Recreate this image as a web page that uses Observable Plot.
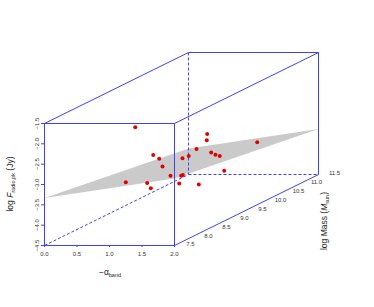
<!DOCTYPE html>
<html><head><meta charset="utf-8">
<script src="https://cdn.jsdelivr.net/npm/d3@7"></script>
<script src="https://cdn.jsdelivr.net/npm/@observablehq/plot@0.6"></script>
<style>
html,body{margin:0;padding:0;background:#fff;}
</style>
</head><body><div id="chart"></div>
<script>
// data (−α_band, log F_radio,pk, log Mass)
const alphaVals = [0.565,1.118,1.112,1.334,0.954,0.903,0.969,1.035,0.842,0.934,1.112,1.015,0.985,1.380,1.385,1.297,1.549,0.974,1.026,1.082,1.242,1.266];
const logFVals  = [-2.25,-2.85,-3.00,-3.49,-3.22,-3.52,-3.58,-3.61,-2.93,-3.02,-3.17,-3.23,-3.21,-3.75,-3.22,-3.42,-3.22,-3.16,-3.40,-3.53,-3.63,-3.87];
const massVals  = [9.0,10.0,10.0,11.0,10.0,10.5,10.5,10.5,9.0,9.0,9.5,9.5,9.0,10.0,8.5,9.0,8.5,8.0,8.5,8.5,9.0,9.5];
// fitted plane corners
const planeAlpha = [0,2,2,0];
const planeMass  = [7.5,7.5,11.5,11.5];
const planeLogF  = [-3.33,-2.85,-3.38,-3.86];
// ticks
const xTicks = [0,0.5,1,1.5,2];
const yTicks = [-4.5,-4,-3.5,-3,-2.5,-2,-1.5];
const massTicks = [7.5,8,8.5,9,9.5,10,10.5,11,11.5];
const alphaRange = [0,2], logFRange = [-4.5,-1.5], massRange = [7.5,11.5];

// oblique projection factors (depth → screen units)
const ku = 0.5538, kv = 0.4364;
const pu = (a,m) => a + (m - massRange[0]) * ku;
const pv = (f,m) => f + (m - massRange[0]) * kv;

const pts = alphaVals.map((a,i) => ({u: pu(a, massVals[i]), v: pv(logFVals[i], massVals[i])}));
const plane = planeAlpha.map((a,i) => ({u: pu(a, planeMass[i]), v: pv(planeLogF[i], planeMass[i])}));

const [a0,a1] = alphaRange, [f0,f1] = logFRange, [m0,m1] = massRange;
function edge(p, q, dashed){ return {x1: pu(p[0],p[2]), y1: pv(p[1],p[2]), x2: pu(q[0],q[2]), y2: pv(q[1],q[2]), dashed}; }
const edges = [
  edge([a0,f0,m0],[a1,f0,m0],false), edge([a1,f0,m0],[a1,f1,m0],false),
  edge([a1,f1,m0],[a0,f1,m0],false), edge([a0,f1,m0],[a0,f0,m0],false),
  edge([a0,f1,m0],[a0,f1,m1],false), edge([a1,f1,m0],[a1,f1,m1],false),
  edge([a1,f0,m0],[a1,f0,m1],false), edge([a0,f1,m1],[a1,f1,m1],false),
  edge([a1,f1,m1],[a1,f0,m1],false),
  edge([a0,f0,m0],[a0,f0,m1],true), edge([a0,f1,m1],[a0,f0,m1],true),
  edge([a0,f0,m1],[a1,f0,m1],true)
];
const massLabels = massTicks.map(m => ({u: pu(a1,m), v: pv(f0,m), t: m.toFixed(1)}));
const blue = "#3f3fff";
const fmt = d => (d < 0 ? "\u2212" : "") + Math.abs(d).toFixed(1);

const chart = Plot.plot({
  width: 374, height: 307,
  marginLeft: 44, marginRight: 56, marginTop: 52, marginBottom: 62,
  style: {fontFamily: "'Liberation Sans', Arial, sans-serif", fontSize: "6px", background: "#fff"},
  x: {domain: [0, 2 + 4*ku], axis: null},
  y: {domain: [-4.5, -1.5 + 4*kv], axis: null},
  marks: [
    Plot.line(plane.concat([plane[0]]), {x: "u", y: "v", fill: "#cacaca", stroke: "none"}),
    Plot.link(edges.filter(d => !d.dashed), {x1:"x1", y1:"y1", x2:"x2", y2:"y2", stroke: blue, strokeWidth: 1}),
    Plot.link(edges.filter(d => d.dashed), {x1:"x1", y1:"y1", x2:"x2", y2:"y2", stroke: blue, strokeWidth: 1, strokeDasharray: "3,2"}),
    Plot.axisX({ticks: xTicks, tickSize: 2, tickFormat: d => d.toFixed(1), label: null, tickPadding: 4, stroke: blue, color: "#333", fontSize: 6}),
    Plot.axisY({ticks: yTicks, tickSize: 3, tickFormat: fmt, label: null, tickRotate: -90, tickPadding: 3, stroke: blue, color: "#333", fontSize: 6}),
    Plot.text(massLabels, {x: "u", y: "v", text: "t", dx: 16, dy: -1, fill: "#333", fontSize: 6}),
    Plot.dot(pts, {x: "u", y: "v", r: 2, fill: "#e00000", stroke: "none"})
  ]
});
document.getElementById("chart").appendChild(chart);

// titles with italic / subscript parts
const svg = d3.select(chart);
const g = svg.append("g").attr("font-family", "'Liberation Sans', Arial, sans-serif").attr("fill", "#222");
const yt = g.append("text").attr("transform", "translate(13,184) rotate(-90)").attr("text-anchor", "middle").attr("font-size", 8.5);
yt.append("tspan").text("log ");
yt.append("tspan").attr("font-style", "italic").text("F");
yt.append("tspan").attr("font-size", 5.5).attr("dy", 2).text("radio,pk");
yt.append("tspan").attr("dy", -2).text(" (Jy)");

const xt = g.append("text").attr("x", 110).attr("y", 275).attr("text-anchor", "middle").attr("font-size", 8.5);
xt.append("tspan").text("\u2212\u03b1");
xt.append("tspan").attr("font-size", 5.5).attr("dy", 2).text("band");

const mt = g.append("text").attr("transform", "translate(327,221) rotate(-90)").attr("text-anchor", "middle").attr("font-size", 8.5);
mt.append("tspan").text("log Mass (");
mt.append("tspan").attr("font-style", "italic").text("M");
mt.append("tspan").attr("font-size", 5.5).attr("dy", 2).text("sun");
mt.append("tspan").attr("dy", -2).text(")");
</script>
</body></html>
